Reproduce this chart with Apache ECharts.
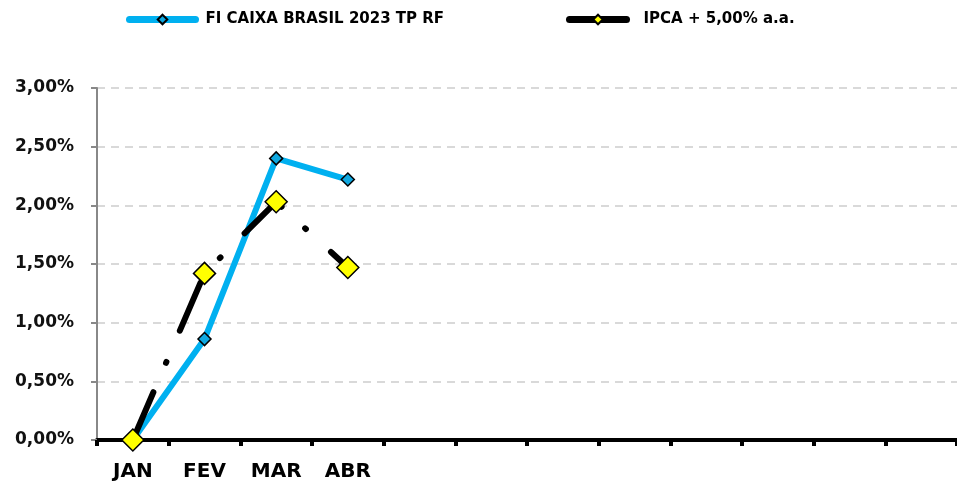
<!DOCTYPE html>
<html>
<head>
<meta charset="utf-8">
<script src="https://cdn.jsdelivr.net/npm/echarts@6/dist/echarts.min.js"></script>
<style>
  html, body { margin: 0; padding: 0; background: #fff; }
  #chart { width: 957px; height: 485px; }
</style>
</head>
<body>
<div id="chart"></div>
<script>
// meses do ano (só os primeiros com dados aparecem no eixo)
const months = ['JAN', 'FEV', 'MAR', 'ABR', 'MAI', 'JUN', 'JUL', 'AGO', 'SET', 'OUT', 'NOV', 'DEZ'];
// rentabilidade acumulada (%)
const fundValues = [0.00, 0.86, 2.40, 2.22];
const ipcaValues = [0.00, 1.42, 2.03, 1.47];
const yTicks = [0, 0.5, 1, 1.5, 2, 2.5, 3];

const fundName = 'FI CAIXA BRASIL 2023 TP RF';
const ipcaName = 'IPCA + 5,00% a.a.';

const font = 'DejaVu Sans';

const myChart = echarts.init(document.getElementById('chart'));

const options = {
    animation: false,
    legend: [
        {
            data: [fundName],
            left: 126,
            top: 12,
            padding: 0,
            itemWidth: 66,
            itemHeight: 12,
            lineStyle: { width: 7, type: 'solid', cap: 'round' },
            textStyle: { fontFamily: font, fontWeight: 'bold', fontSize: 15, color: '#000', padding: [0, 0, 0, 5] }
        },
        {
            data: [ipcaName],
            left: 566,
            top: 12,
            padding: 0,
            itemWidth: 57,
            itemHeight: 12,
            lineStyle: { width: 7, type: 'solid', cap: 'round' },
            textStyle: { fontFamily: font, fontWeight: 'bold', fontSize: 15, color: '#000', padding: [0, 0, 0, 12] }
        }
    ],
    grid: {
        left: 97,
        right: -4,
        top: 88,
        bottom: 45
    },
    xAxis: {
        type: 'category',
        data: months,
        boundaryGap: true,
        axisLine: {
            lineStyle: { color: '#000', width: 4 }
        },
        axisTick: {
            show: true,
            interval: 0,
            length: 6,
            lineStyle: { color: '#000', width: 4 }
        },
        axisLabel: {
            margin: 22,
            interval: 0,
            fontFamily: font,
            fontWeight: 'bold',
            fontSize: 20,
            color: '#000',
            formatter: (v, i) => (i < fundValues.length ? v : '')
        }
    },
    yAxis: {
        type: 'value',
        min: yTicks[0],
        max: yTicks[yTicks.length - 1],
        interval: 0.5,
        axisLine: {
            show: true,
            lineStyle: { color: '#888', width: 2 }
        },
        axisTick: {
            show: true,
            length: 6,
            lineStyle: { color: '#888', width: 2 }
        },
        axisLabel: {
            margin: 23,
            fontFamily: font,
            fontWeight: 'bold',
            fontSize: 17,
            color: '#111',
            formatter: v => v.toFixed(2).replace('.', ',') + '%'
        },
        splitLine: {
            lineStyle: { color: '#d9d9d9', width: 2, type: [8, 6] }
        }
    },
    series: [
        {
            name: fundName,
            type: 'line',
            data: fundValues,
            symbol: 'diamond',
            symbolSize: 13,
            lineStyle: { color: '#00b0f0', width: 6 },
            itemStyle: { color: '#0fa8e0', borderColor: '#000', borderWidth: 1.5 },
            z: 2
        },
        {
            name: ipcaName,
            type: 'line',
            data: ipcaValues,
            symbol: 'diamond',
            symbolSize: 22,
            lineStyle: { color: '#000', width: 6, type: [52, 32, 1, 34], cap: 'round' },
            itemStyle: { color: '#ffff00', borderColor: '#000', borderWidth: 1.5 },
            z: 3
        }
    ]
};

myChart.setOption(options);
</script>
</body>
</html>
